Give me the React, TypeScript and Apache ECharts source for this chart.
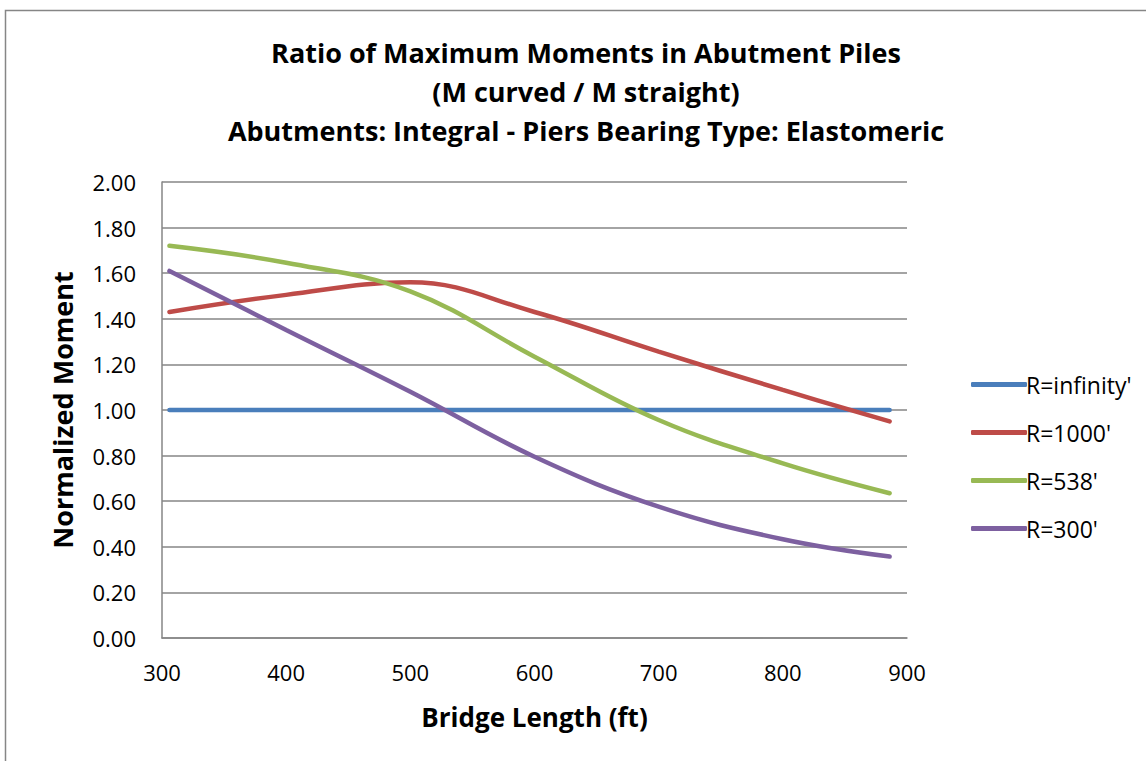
import React, { useEffect, useRef } from "react";
import * as echarts from "echarts";

const lengths = [306, 400, 500, 600, 700, 800, 886];
const rInfinity = [1.0, 1.0, 1.0, 1.0, 1.0, 1.0, 1.0];
const r1000 = [1.43, 1.505, 1.56, 1.43, 1.256, 1.088, 0.95];
const r538 = [1.72, 1.646, 1.52, 1.234, 0.956, 0.766, 0.635];
const r300 = [1.61, 1.351, 1.08, 0.795, 0.576, 0.433, 0.357];
const seriesNames = ["R=infinity'", "R=1000'", "R=538'", "R=300'"];
const colors = ["#4A7EBB", "#BE4B48", "#98B954", "#7D60A0"];
const titleLines = [
  "Ratio of Maximum Moments in Abutment Piles",
  "(M curved / M straight)",
  "Abutments: Integral - Piers Bearing Type: Elastomeric",
];

const FONT = "'Open Sans', Lato, sans-serif";

export default function App() {
  const ref = useRef<HTMLDivElement>(null);
  useEffect(() => {
    if (!ref.current) return;
    const chart = echarts.init(ref.current, null, { renderer: "svg" });
    const all = [rInfinity, r1000, r538, r300];
    chart.setOption({
      animation: false,
      backgroundColor: "#ffffff",
      graphic: [
        {
          type: "rect",
          shape: { x: 5.5, y: 10.5, width: 1300, height: 900 },
          style: { fill: "none", stroke: "#868686", lineWidth: 1.5 },
          silent: true,
        },
        ...titleLines.map((t, i) => ({
          type: "text",
          x: 586,
          y: 52 + i * 39,
          style: {
            text: t,
            fill: "#000",
            font: `bold 27px ${FONT}`,
            textAlign: "center",
            textVerticalAlign: "middle",
          },
        })),
      ],
      grid: { left: 162, right: 239, top: 182, bottom: 123, containLabel: false },
      legend: {
        orient: "vertical",
        left: 966,
        top: 368,
        itemWidth: 56,
        itemHeight: 5,
        itemGap: 25,
        data: seriesNames,
        icon: "roundRect",
        textStyle: { fontSize: 23, fontFamily: FONT, color: "#000", padding: [0, 0, 0, -6] },
      },
      xAxis: {
        type: "value",
        min: 300,
        max: 900,
        interval: 100,
        name: "Bridge Length (ft)",
        nameLocation: "middle",
        nameGap: 66,
        nameTextStyle: { fontSize: 26, fontWeight: "bold", fontFamily: FONT, color: "#000" },
        axisLine: { show: true, lineStyle: { color: "#868686", width: 1.5 } },
        axisTick: { show: false },
        splitLine: { show: false },
        axisLabel: { fontSize: 22, fontFamily: FONT, color: "#000", margin: 23 },
      },
      yAxis: {
        type: "value",
        min: 0,
        max: 2,
        interval: 0.2,
        name: "Normalized Moment",
        nameLocation: "middle",
        nameGap: 86,
        nameTextStyle: { fontSize: 27, fontWeight: "bold", fontFamily: FONT, color: "#000" },
        axisLine: { show: true, lineStyle: { color: "#868686", width: 1.5 } },
        axisTick: { show: false },
        splitLine: { show: true, lineStyle: { color: "#868686", width: 1.5 } },
        axisLabel: {
          fontSize: 22,
          fontFamily: FONT,
          color: "#000",
          margin: 26,
          formatter: (v: number) => v.toFixed(2),
        },
      },
      series: seriesNames.map((n, i) => ({
        name: n,
        type: "line",
        data: lengths.map((x, j) => [x, all[i][j]]),
        smooth: 0.4,
        symbol: "none",
        lineStyle: { color: colors[i], width: 4.5, cap: "round" },
        itemStyle: { color: colors[i] },
      })),
    });
    return () => chart.dispose();
  }, []);
  return (
    <div
      ref={ref}
      style={{ position: "fixed", left: 0, top: 0, width: 1146, height: 761 }}
    />
  );
}
